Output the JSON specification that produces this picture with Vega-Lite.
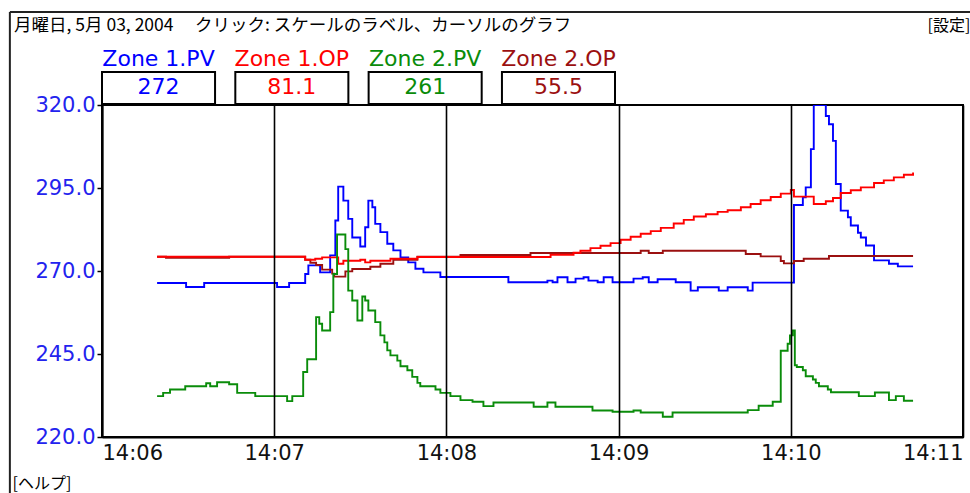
{
  "$schema": "https://vega.github.io/schema/vega-lite/v6.json",
  "width": 861,
  "height": 332,
  "autosize": {"type": "none"},
  "padding": {"left": 102, "top": 105, "right": 7, "bottom": 56},
  "background": "white",
  "title": {
    "text": "月曜日,  5月  03,  2004　 クリック: スケールのラベル、カーソルのグラフ",
    "anchor": "start", "frame": "group", "dx": -88, "offset": 0, "baseline": "top", "dy": 23,
    "font": "Noto Sans CJK JP", "fontSize": 17.5, "fontWeight": "normal", "color": "#000"
  },
  "datasets": {
    "legend": [
      {"k": "Zone 1.PV", "val": "272"},
      {"k": "Zone 1.OP", "val": "81.1"},
      {"k": "Zone 2.PV", "val": "261"},
      {"k": "Zone 2.OP", "val": "55.5"}
    ],
    "series": [
      {"s": 19.2, "k": "Zone 1.PV", "v": 266.4},
      {"s": 29.3, "k": "Zone 1.PV", "v": 265.2},
      {"s": 35.6, "k": "Zone 1.PV", "v": 266.4},
      {"s": 61.0, "k": "Zone 1.PV", "v": 265.2},
      {"s": 65.2, "k": "Zone 1.PV", "v": 266.4},
      {"s": 70.8, "k": "Zone 1.PV", "v": 269.1},
      {"s": 71.9, "k": "Zone 1.PV", "v": 271.7},
      {"s": 76.0, "k": "Zone 1.PV", "v": 269.6},
      {"s": 79.5, "k": "Zone 1.PV", "v": 274.7},
      {"s": 81.3, "k": "Zone 1.PV", "v": 285.2},
      {"s": 82.3, "k": "Zone 1.PV", "v": 295.4},
      {"s": 84.1, "k": "Zone 1.PV", "v": 291.2},
      {"s": 85.8, "k": "Zone 1.PV", "v": 285.7},
      {"s": 87.2, "k": "Zone 1.PV", "v": 280.1},
      {"s": 90.0, "k": "Zone 1.PV", "v": 277.4},
      {"s": 91.7, "k": "Zone 1.PV", "v": 283.2},
      {"s": 92.8, "k": "Zone 1.PV", "v": 291.2},
      {"s": 94.2, "k": "Zone 1.PV", "v": 289.2},
      {"s": 95.2, "k": "Zone 1.PV", "v": 284.2},
      {"s": 97.0, "k": "Zone 1.PV", "v": 281.7},
      {"s": 99.4, "k": "Zone 1.PV", "v": 278.2},
      {"s": 101.5, "k": "Zone 1.PV", "v": 276.2},
      {"s": 104.0, "k": "Zone 1.PV", "v": 274.1},
      {"s": 106.7, "k": "Zone 1.PV", "v": 272.6},
      {"s": 109.2, "k": "Zone 1.PV", "v": 270.7},
      {"s": 112.0, "k": "Zone 1.PV", "v": 269.6},
      {"s": 117.9, "k": "Zone 1.PV", "v": 268.2},
      {"s": 141.6, "k": "Zone 1.PV", "v": 266.6},
      {"s": 155.2, "k": "Zone 1.PV", "v": 267.1},
      {"s": 157.0, "k": "Zone 1.PV", "v": 266.6},
      {"s": 158.7, "k": "Zone 1.PV", "v": 268.1},
      {"s": 162.2, "k": "Zone 1.PV", "v": 266.6},
      {"s": 165.0, "k": "Zone 1.PV", "v": 267.7},
      {"s": 167.8, "k": "Zone 1.PV", "v": 268.1},
      {"s": 169.5, "k": "Zone 1.PV", "v": 267.1},
      {"s": 172.7, "k": "Zone 1.PV", "v": 266.6},
      {"s": 174.8, "k": "Zone 1.PV", "v": 268.1},
      {"s": 177.9, "k": "Zone 1.PV", "v": 266.6},
      {"s": 185.2, "k": "Zone 1.PV", "v": 267.7},
      {"s": 188.4, "k": "Zone 1.PV", "v": 268.1},
      {"s": 190.5, "k": "Zone 1.PV", "v": 266.6},
      {"s": 193.6, "k": "Zone 1.PV", "v": 267.5},
      {"s": 199.9, "k": "Zone 1.PV", "v": 266.6},
      {"s": 205.1, "k": "Zone 1.PV", "v": 264.1},
      {"s": 207.6, "k": "Zone 1.PV", "v": 265.1},
      {"s": 214.9, "k": "Zone 1.PV", "v": 264.1},
      {"s": 218.0, "k": "Zone 1.PV", "v": 265.1},
      {"s": 225.0, "k": "Zone 1.PV", "v": 264.1},
      {"s": 226.7, "k": "Zone 1.PV", "v": 266.5},
      {"s": 241.1, "k": "Zone 1.PV", "v": 289.9},
      {"s": 244.2, "k": "Zone 1.PV", "v": 292.2},
      {"s": 245.2, "k": "Zone 1.PV", "v": 295.2},
      {"s": 247.0, "k": "Zone 1.PV", "v": 306.7},
      {"s": 248.0, "k": "Zone 1.PV", "v": 320.0},
      {"s": 252.2, "k": "Zone 1.PV", "v": 316.7},
      {"s": 253.3, "k": "Zone 1.PV", "v": 314.2},
      {"s": 254.7, "k": "Zone 1.PV", "v": 309.2},
      {"s": 255.7, "k": "Zone 1.PV", "v": 296.2},
      {"s": 257.4, "k": "Zone 1.PV", "v": 288.2},
      {"s": 259.9, "k": "Zone 1.PV", "v": 286.2},
      {"s": 260.9, "k": "Zone 1.PV", "v": 283.7},
      {"s": 263.4, "k": "Zone 1.PV", "v": 281.5},
      {"s": 264.4, "k": "Zone 1.PV", "v": 280.1},
      {"s": 266.2, "k": "Zone 1.PV", "v": 277.7},
      {"s": 269.0, "k": "Zone 1.PV", "v": 273.2},
      {"s": 274.2, "k": "Zone 1.PV", "v": 272.2},
      {"s": 277.3, "k": "Zone 1.PV", "v": 271.4},
      {"s": 282.6, "k": "Zone 1.PV", "v": 271.4},

      {"s": 19.2, "k": "Zone 2.OP", "v": 274.3},
      {"s": 22.3, "k": "Zone 2.OP", "v": 274.0},
      {"s": 44.3, "k": "Zone 2.OP", "v": 274.3},
      {"s": 70.8, "k": "Zone 2.OP", "v": 273.4},
      {"s": 72.6, "k": "Zone 2.OP", "v": 272.5},
      {"s": 74.6, "k": "Zone 2.OP", "v": 271.8},
      {"s": 76.7, "k": "Zone 2.OP", "v": 270.4},
      {"s": 80.2, "k": "Zone 2.OP", "v": 269.2},
      {"s": 80.9, "k": "Zone 2.OP", "v": 268.3},
      {"s": 84.8, "k": "Zone 2.OP", "v": 269.9},
      {"s": 87.2, "k": "Zone 2.OP", "v": 270.6},
      {"s": 93.5, "k": "Zone 2.OP", "v": 271.3},
      {"s": 97.0, "k": "Zone 2.OP", "v": 272.2},
      {"s": 101.5, "k": "Zone 2.OP", "v": 273.4},
      {"s": 109.9, "k": "Zone 2.OP", "v": 274.3},
      {"s": 124.9, "k": "Zone 2.OP", "v": 274.8},
      {"s": 149.3, "k": "Zone 2.OP", "v": 275.4},
      {"s": 187.7, "k": "Zone 2.OP", "v": 276.1},
      {"s": 190.5, "k": "Zone 2.OP", "v": 275.4},
      {"s": 195.4, "k": "Zone 2.OP", "v": 276.1},
      {"s": 224.3, "k": "Zone 2.OP", "v": 275.1},
      {"s": 229.5, "k": "Zone 2.OP", "v": 274.4},
      {"s": 236.5, "k": "Zone 2.OP", "v": 273.0},
      {"s": 237.6, "k": "Zone 2.OP", "v": 272.3},
      {"s": 241.1, "k": "Zone 2.OP", "v": 273.0},
      {"s": 244.5, "k": "Zone 2.OP", "v": 273.7},
      {"s": 253.3, "k": "Zone 2.OP", "v": 274.5},
      {"s": 282.6, "k": "Zone 2.OP", "v": 274.5},

      {"s": 19.2, "k": "Zone 1.OP", "v": 274.3},
      {"s": 70.8, "k": "Zone 1.OP", "v": 273.4},
      {"s": 74.3, "k": "Zone 1.OP", "v": 273.7},
      {"s": 76.7, "k": "Zone 1.OP", "v": 274.1},
      {"s": 82.3, "k": "Zone 1.OP", "v": 272.2},
      {"s": 84.1, "k": "Zone 1.OP", "v": 273.1},
      {"s": 90.0, "k": "Zone 1.OP", "v": 273.4},
      {"s": 91.7, "k": "Zone 1.OP", "v": 272.6},
      {"s": 93.5, "k": "Zone 1.OP", "v": 273.1},
      {"s": 100.5, "k": "Zone 1.OP", "v": 273.7},
      {"s": 109.9, "k": "Zone 1.OP", "v": 274.2},
      {"s": 156.3, "k": "Zone 1.OP", "v": 274.9},
      {"s": 164.3, "k": "Zone 1.OP", "v": 275.5},
      {"s": 166.7, "k": "Zone 1.OP", "v": 276.1},
      {"s": 170.2, "k": "Zone 1.OP", "v": 276.9},
      {"s": 173.7, "k": "Zone 1.OP", "v": 277.6},
      {"s": 177.2, "k": "Zone 1.OP", "v": 278.4},
      {"s": 180.7, "k": "Zone 1.OP", "v": 279.4},
      {"s": 184.2, "k": "Zone 1.OP", "v": 280.3},
      {"s": 187.7, "k": "Zone 1.OP", "v": 281.2},
      {"s": 191.2, "k": "Zone 1.OP", "v": 282.0},
      {"s": 194.7, "k": "Zone 1.OP", "v": 283.0},
      {"s": 199.2, "k": "Zone 1.OP", "v": 284.3},
      {"s": 202.7, "k": "Zone 1.OP", "v": 285.4},
      {"s": 206.2, "k": "Zone 1.OP", "v": 286.4},
      {"s": 210.4, "k": "Zone 1.OP", "v": 287.1},
      {"s": 214.5, "k": "Zone 1.OP", "v": 287.8},
      {"s": 218.0, "k": "Zone 1.OP", "v": 288.3},
      {"s": 222.6, "k": "Zone 1.OP", "v": 289.2},
      {"s": 226.0, "k": "Zone 1.OP", "v": 290.2},
      {"s": 229.5, "k": "Zone 1.OP", "v": 291.3},
      {"s": 233.0, "k": "Zone 1.OP", "v": 292.3},
      {"s": 236.5, "k": "Zone 1.OP", "v": 293.3},
      {"s": 240.0, "k": "Zone 1.OP", "v": 294.4},
      {"s": 241.1, "k": "Zone 1.OP", "v": 292.4},
      {"s": 248.0, "k": "Zone 1.OP", "v": 290.2},
      {"s": 252.2, "k": "Zone 1.OP", "v": 291.0},
      {"s": 254.7, "k": "Zone 1.OP", "v": 292.0},
      {"s": 257.4, "k": "Zone 1.OP", "v": 293.5},
      {"s": 260.9, "k": "Zone 1.OP", "v": 294.3},
      {"s": 264.4, "k": "Zone 1.OP", "v": 295.2},
      {"s": 269.0, "k": "Zone 1.OP", "v": 296.5},
      {"s": 272.4, "k": "Zone 1.OP", "v": 297.3},
      {"s": 275.9, "k": "Zone 1.OP", "v": 298.2},
      {"s": 279.4, "k": "Zone 1.OP", "v": 299.0},
      {"s": 282.6, "k": "Zone 1.OP", "v": 299.7},

      {"s": 19.2, "k": "Zone 2.PV", "v": 232.3},
      {"s": 21.3, "k": "Zone 2.PV", "v": 233.3},
      {"s": 23.7, "k": "Zone 2.PV", "v": 234.3},
      {"s": 29.0, "k": "Zone 2.PV", "v": 235.3},
      {"s": 36.3, "k": "Zone 2.PV", "v": 236.2},
      {"s": 37.7, "k": "Zone 2.PV", "v": 235.3},
      {"s": 40.1, "k": "Zone 2.PV", "v": 236.5},
      {"s": 44.3, "k": "Zone 2.PV", "v": 235.9},
      {"s": 47.1, "k": "Zone 2.PV", "v": 233.3},
      {"s": 53.4, "k": "Zone 2.PV", "v": 232.3},
      {"s": 64.5, "k": "Zone 2.PV", "v": 230.8},
      {"s": 66.3, "k": "Zone 2.PV", "v": 232.3},
      {"s": 70.1, "k": "Zone 2.PV", "v": 239.6},
      {"s": 71.5, "k": "Zone 2.PV", "v": 243.4},
      {"s": 74.6, "k": "Zone 2.PV", "v": 256.1},
      {"s": 75.7, "k": "Zone 2.PV", "v": 254.1},
      {"s": 76.7, "k": "Zone 2.PV", "v": 252.1},
      {"s": 79.5, "k": "Zone 2.PV", "v": 257.6},
      {"s": 80.6, "k": "Zone 2.PV", "v": 269.1},
      {"s": 81.9, "k": "Zone 2.PV", "v": 281.0},
      {"s": 84.8, "k": "Zone 2.PV", "v": 276.6},
      {"s": 85.8, "k": "Zone 2.PV", "v": 264.1},
      {"s": 87.2, "k": "Zone 2.PV", "v": 261.1},
      {"s": 89.0, "k": "Zone 2.PV", "v": 255.1},
      {"s": 90.7, "k": "Zone 2.PV", "v": 262.3},
      {"s": 91.7, "k": "Zone 2.PV", "v": 261.1},
      {"s": 92.8, "k": "Zone 2.PV", "v": 258.1},
      {"s": 95.2, "k": "Zone 2.PV", "v": 254.6},
      {"s": 97.0, "k": "Zone 2.PV", "v": 250.6},
      {"s": 98.4, "k": "Zone 2.PV", "v": 248.5},
      {"s": 99.4, "k": "Zone 2.PV", "v": 246.1},
      {"s": 100.5, "k": "Zone 2.PV", "v": 244.6},
      {"s": 102.9, "k": "Zone 2.PV", "v": 243.0},
      {"s": 104.0, "k": "Zone 2.PV", "v": 241.3},
      {"s": 106.4, "k": "Zone 2.PV", "v": 240.1},
      {"s": 108.1, "k": "Zone 2.PV", "v": 238.1},
      {"s": 109.9, "k": "Zone 2.PV", "v": 236.3},
      {"s": 110.9, "k": "Zone 2.PV", "v": 235.3},
      {"s": 116.2, "k": "Zone 2.PV", "v": 234.3},
      {"s": 117.9, "k": "Zone 2.PV", "v": 233.3},
      {"s": 121.4, "k": "Zone 2.PV", "v": 232.3},
      {"s": 124.9, "k": "Zone 2.PV", "v": 231.1},
      {"s": 129.1, "k": "Zone 2.PV", "v": 230.6},
      {"s": 132.9, "k": "Zone 2.PV", "v": 229.3},
      {"s": 136.4, "k": "Zone 2.PV", "v": 230.4},
      {"s": 150.4, "k": "Zone 2.PV", "v": 229.1},
      {"s": 155.2, "k": "Zone 2.PV", "v": 230.4},
      {"s": 158.0, "k": "Zone 2.PV", "v": 229.1},
      {"s": 170.9, "k": "Zone 2.PV", "v": 228.0},
      {"s": 177.9, "k": "Zone 2.PV", "v": 227.6},
      {"s": 185.2, "k": "Zone 2.PV", "v": 228.0},
      {"s": 187.7, "k": "Zone 2.PV", "v": 227.4},
      {"s": 195.4, "k": "Zone 2.PV", "v": 226.1},
      {"s": 198.8, "k": "Zone 2.PV", "v": 227.4},
      {"s": 225.0, "k": "Zone 2.PV", "v": 228.1},
      {"s": 228.8, "k": "Zone 2.PV", "v": 229.4},
      {"s": 233.7, "k": "Zone 2.PV", "v": 230.6},
      {"s": 236.5, "k": "Zone 2.PV", "v": 246.0},
      {"s": 238.9, "k": "Zone 2.PV", "v": 248.1},
      {"s": 239.7, "k": "Zone 2.PV", "v": 250.6},
      {"s": 240.7, "k": "Zone 2.PV", "v": 252.1},
      {"s": 241.4, "k": "Zone 2.PV", "v": 241.6},
      {"s": 242.1, "k": "Zone 2.PV", "v": 241.1},
      {"s": 244.2, "k": "Zone 2.PV", "v": 240.1},
      {"s": 245.2, "k": "Zone 2.PV", "v": 238.3},
      {"s": 247.7, "k": "Zone 2.PV", "v": 237.3},
      {"s": 248.7, "k": "Zone 2.PV", "v": 236.3},
      {"s": 249.8, "k": "Zone 2.PV", "v": 235.3},
      {"s": 252.9, "k": "Zone 2.PV", "v": 234.3},
      {"s": 254.0, "k": "Zone 2.PV", "v": 233.5},
      {"s": 263.7, "k": "Zone 2.PV", "v": 232.3},
      {"s": 269.3, "k": "Zone 2.PV", "v": 233.4},
      {"s": 274.2, "k": "Zone 2.PV", "v": 231.1},
      {"s": 276.6, "k": "Zone 2.PV", "v": 232.3},
      {"s": 279.4, "k": "Zone 2.PV", "v": 230.9},
      {"s": 282.6, "k": "Zone 2.PV", "v": 230.9}
    ]
  },
  "layer": [
    {
      "data": {"name": "series"},
      "mark": {"type": "line", "interpolate": "step-after", "strokeWidth": 1.9, "clip": true},
      "encoding": {
        "x": {
          "field": "s", "type": "quantitative",
          "scale": {"domain": [0, 300], "nice": false, "zero": false},
          "axis": {
            "orient": "bottom",
            "values": [0, 60, 120, 180, 240, 300],
            "labelExpr": "'14:' + format(6 + datum.value / 60, '02d')",
            "grid": true, "gridColor": "#000", "gridWidth": 1.6, "gridOpacity": 1,
            "ticks": false, "domain": true, "domainColor": "#000", "domainWidth": 2,
            "labelFont": "DejaVu Sans", "labelFontSize": 21, "labelColor": "#111",
            "labelPadding": 5, "labelFlush": true, "labelOverlap": false,
            "zindex": 1,
            "title": "[ヘルプ]", "titleX": -90, "titleY": 38, "titleAlign": "left",
            "titleBaseline": "top", "titleFont": "Noto Sans CJK JP", "titleFontSize": 16,
            "titleFontWeight": "normal", "titleColor": "#000"
          }
        },
        "y": {
          "field": "v", "type": "quantitative",
          "scale": {"domain": [220, 320], "nice": false, "zero": false},
          "axis": {
            "orient": "left",
            "values": [220, 245, 270, 295, 320], "format": ".1f",
            "grid": false, "tickSize": 5, "tickColor": "#000", "tickWidth": 1.5,
            "domainColor": "#000", "domainWidth": 2,
            "labelColor": "#2323ee", "labelFont": "DejaVu Sans", "labelFontSize": 21,
            "labelPadding": 2, "labelFlush": false, "labelOverlap": false,
            "title": null
          }
        },
        "color": {
          "field": "k", "type": "nominal",
          "scale": {
            "domain": ["Zone 1.PV", "Zone 1.OP", "Zone 2.PV", "Zone 2.OP"],
            "range": ["#0000ff", "#ff0000", "#0a8c0a", "#9b1010"]
          },
          "legend": null
        }
      }
    },
    {
      "data": {"name": "legend"},
      "encoding": {
        "x": {
          "field": "k", "type": "nominal", "sort": null,
          "scale": {
            "domain": ["Zone 1.PV", "Zone 1.OP", "Zone 2.PV", "Zone 2.OP"],
            "range": [0, 513], "paddingInner": 0.152, "paddingOuter": 0
          },
          "axis": {
            "orient": "top", "domain": false, "ticks": false, "labels": false, "grid": false,
            "title": "[設定]", "titleX": 825, "titleY": -88, "titleAlign": "left",
            "titleBaseline": "top", "titleAngle": 0, "titleFont": "Noto Sans CJK JP",
            "titleFontSize": 16, "titleFontWeight": "normal", "titleColor": "#000"
          }
        },
        "color": {"field": "k", "type": "nominal", "legend": null}
      },
      "layer": [
        {
          "mark": {"type": "rect", "fill": "white", "stroke": "#000", "strokeWidth": 2},
          "encoding": {
            "color": {"value": "white"},
            "y": {"datum": 0, "type": "quantitative", "scale": {"domain": [0, 1], "range": [-1, -33]}, "axis": null},
            "y2": {"datum": 1}
          }
        },
        {
          "mark": {"type": "text", "font": "DejaVu Sans", "fontSize": 22, "baseline": "middle", "align": "center"},
          "encoding": {
            "text": {"field": "k"},
            "y": {"datum": 1.42, "type": "quantitative"}
          }
        },
        {
          "mark": {"type": "text", "font": "DejaVu Sans", "fontSize": 22, "baseline": "middle", "align": "center"},
          "encoding": {
            "text": {"field": "val"},
            "y": {"datum": 0.53, "type": "quantitative"}
          }
        }
      ]
    },
    {
      "data": {"values": [{}]},
      "layer": [
        {
          "mark": {"type": "rule", "color": "#222", "strokeWidth": 2, "clip": false},
          "encoding": {
            "x": {"datum": -32.1, "type": "quantitative", "scale": {"domain": [0, 300], "nice": false, "zero": false}, "axis": null},
            "y": {"datum": 348, "type": "quantitative", "scale": {"domain": [220, 320], "nice": false, "zero": false}, "axis": null},
            "y2": {"datum": 201}
          }
        },
        {
          "mark": {"type": "rule", "color": "#222", "strokeWidth": 2, "clip": false},
          "encoding": {
            "x": {"datum": -32.1, "type": "quantitative", "scale": {"domain": [0, 300], "nice": false, "zero": false}, "axis": null},
            "x2": {"datum": 305},
            "y": {"datum": 348, "type": "quantitative", "scale": {"domain": [220, 320], "nice": false, "zero": false}, "axis": null}
          }
        }
      ]
    }
  ],
  "resolve": {"scale": {"x": "independent", "y": "independent"}},
  "config": {
    "view": {"stroke": "#000", "strokeWidth": 2}
  }
}
